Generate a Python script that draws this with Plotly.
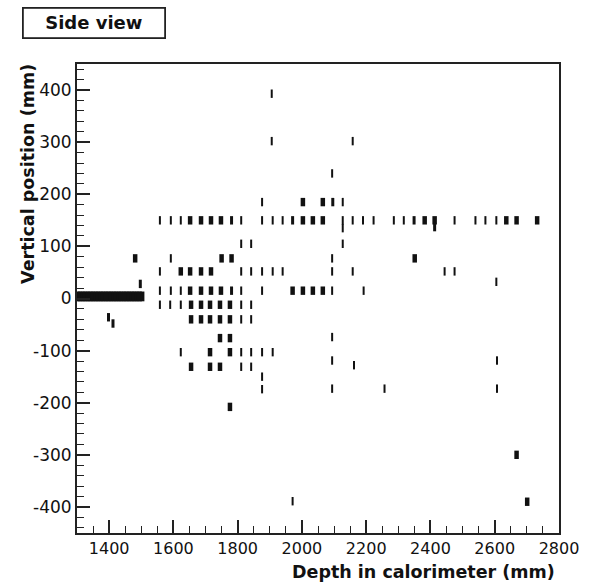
import plotly.graph_objects as go

# ---- data (mm) ----
band_x = [1302, 1310, 1318, 1326, 1334, 1342, 1350, 1358, 1366, 1374, 1382, 1390, 1398,
          1406, 1414, 1422, 1430, 1438, 1446, 1454, 1462, 1470, 1478, 1486, 1494, 1502]
band_y = [4] * len(band_x)

depth_mm = [
    1481, 1497, 1398, 1412,
    1876, 2003, 2065, 2096, 2127,
    2094, 2158, 1906, 1906,
    1811, 1842, 2127,
    1592, 1750, 1781, 2094, 2351,
    1558, 1592, 1623, 1652, 1686, 1717, 1748, 1781, 1811, 1876, 1909, 1940, 1971, 2003,
    2034, 2065, 2127, 2158, 2190, 2223, 2286, 2317, 2349, 2382, 2413, 2475, 2540, 2571,
    2605, 2636, 2668, 2732, 2127, 2413,
    1558, 1623, 1652, 1686, 1717, 1811, 1842, 1876, 1909, 1940, 2094, 2158, 2444, 2475,
    2605,
    1558, 1592, 1623, 1652, 1686, 1717, 1748, 1781, 1811, 1876, 1971, 2003, 2034, 2065,
    2094, 2192,
    1558, 1590, 1623, 1655, 1686, 1714, 1745, 1776, 1811, 1842,
    1655, 1686, 1714, 1745, 1776, 1811, 1842,
    1745, 1776,
    1623, 1714, 1776, 1811, 1842, 1876, 1909,
    1655, 1714, 1745, 1811, 1842,
    1876, 1876, 1776,
    2094, 2094, 2162, 2094, 2257, 2607, 2607,
    1971, 2668, 2701,
]
vertical_mm = [
    77, 28, -36, -48,
    185, 185, 185, 185, 185,
    240, 302, 393, 302,
    105, 105, 105,
    77, 77, 77, 77, 77,
    150, 150, 150, 150, 150, 150, 150, 150, 150, 150, 150, 150, 150, 150,
    150, 150, 150, 150, 150, 150, 150, 150, 150, 150, 150, 150, 150, 150,
    150, 150, 150, 150, 135, 137,
    52, 52, 52, 52, 52, 52, 52, 52, 52, 52, 52, 52, 52, 52,
    32,
    15, 15, 15, 15, 15, 15, 15, 15, 15, 15, 15, 15, 15, 15,
    15, 15,
    -12, -12, -12, -12, -12, -12, -12, -12, -12, -12,
    -40, -40, -40, -40, -40, -40, -40,
    -76, -76,
    -103, -103, -103, -103, -103, -103, -103,
    -131, -131, -131, -131, -131,
    -150, -174, -208,
    -74, -119, -128, -173, -173, -119, -173,
    -389, -300, -390,
]
# hit weight: 1 = light, 2 = medium, 3 = heavy
hit_weight = [
    3, 2, 2, 2,
    1, 3, 3, 2, 1,
    1, 1, 1, 1,
    1, 1, 1,
    1, 3, 3, 1, 3,
    1, 1, 1, 3, 3, 3, 3, 2, 1, 1, 1, 1, 2, 3,
    3, 3, 1, 1, 1, 1, 1, 1, 2, 3, 3, 1, 1, 1,
    1, 3, 3, 3, 1, 2,
    1, 3, 3, 3, 3, 1, 1, 1, 1, 1, 1, 1, 1, 1,
    1,
    1, 1, 1, 3, 3, 3, 3, 2, 1, 1, 3, 3, 3, 3,
    1, 1,
    1, 1, 1, 3, 3, 3, 3, 3, 1, 1,
    3, 3, 3, 3, 3, 1, 1,
    3, 3,
    1, 3, 3, 1, 1, 1, 1,
    3, 3, 3, 1, 1,
    1, 1, 3,
    1, 1, 1, 1, 1, 1, 1,
    1, 3, 3,
]

x_tick_vals = [1400, 1600, 1800, 2000, 2200, 2400, 2600, 2800]
x_tick_text = ["1400", "1600", "1800", "2000", "2200", "2400", "2600", "2800"]
y_tick_vals = [-400, -300, -200, -100, 0, 100, 200, 300, 400]
y_tick_text = ["-400", "-300", "-200", "-100", "0", "100", "200", "300", "400"]

width_map = {1: 2.0, 2: 3.0, 3: 4.5}
ink = "#111111"

fig = go.Figure()
fig.add_trace(go.Scatter(
    x=band_x, y=band_y, mode="markers", hoverinfo="skip",
    marker=dict(symbol="line-ns", size=7, color=ink,
                line=dict(color=ink, width=5)),
))
fig.add_trace(go.Scatter(
    x=depth_mm, y=vertical_mm, mode="markers",
    marker=dict(symbol="line-ns", size=6, color=ink,
                line=dict(color=ink, width=[width_map[w] for w in hit_weight])),
))

fam = "DejaVu Sans, Liberation Sans, Arial, sans-serif"
xtick_font = dict(family=fam, size=16, color="#111")
ytick_font = dict(family=fam, size=17, color="#111")
title_font = dict(family=fam, size=17.5, color="#111")

fig.update_layout(
    width=596, height=582,
    margin=dict(l=77, r=37, t=64, b=49),
    plot_bgcolor="white", paper_bgcolor="white",
    showlegend=False,
    xaxis=dict(range=[1300, 2800], tickvals=x_tick_vals, ticktext=x_tick_text,
               ticks="inside", ticklen=13, tickwidth=1.5, tickcolor="#222",
               minor=dict(dtick=50, tick0=0, ticks="inside", ticklen=7, tickwidth=1.2,
                          tickcolor="#222"),
               showgrid=False, zeroline=False, showline=True, mirror=True,
               linecolor="#222", linewidth=1.8, tickfont=xtick_font),
    yaxis=dict(range=[-450, 450], tickvals=y_tick_vals, ticktext=y_tick_text,
               ticks="inside", ticklen=13, tickwidth=1.5, tickcolor="#222",
               minor=dict(dtick=20, tick0=0, ticks="inside", ticklen=7, tickwidth=1.2,
                          tickcolor="#222"),
               showgrid=False, zeroline=False, showline=True, mirror=True,
               linecolor="#222", linewidth=1.8, tickfont=ytick_font),
    annotations=[
        dict(text="<b>Depth in calorimeter (mm)</b>", xref="paper", yref="paper",
             x=0.995, y=-0.083, xanchor="right", yanchor="middle", showarrow=False,
             font=title_font),
        dict(text="<b>Vertical position (mm)</b>", xref="paper", yref="paper",
             x=-0.102, y=1.004, xanchor="center", yanchor="top", textangle=-90,
             showarrow=False, font=title_font),
        dict(text="<b>Side view</b>", xref="paper", yref="paper",
             x=(22 - 77) / 482, y=(533 - 7) / 469, xanchor="left", yanchor="top",
             showarrow=False, width=140, height=28, borderwidth=1.8, bordercolor="#222",
             bgcolor="white", borderpad=0, font=dict(family=fam, size=18, color="#111")),
    ],
)

fig.write_html("out.html")
